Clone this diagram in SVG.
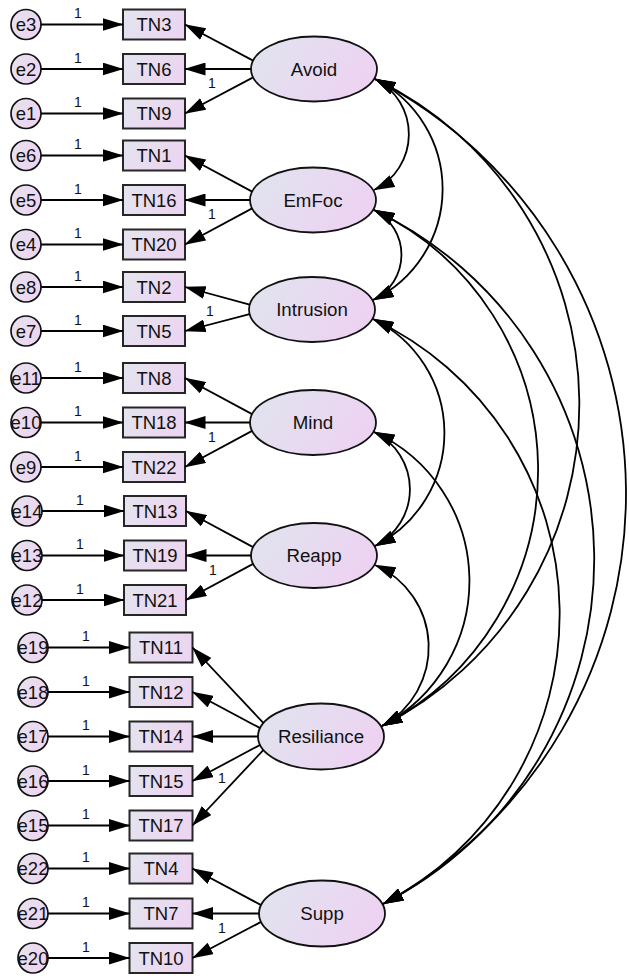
<svg xmlns="http://www.w3.org/2000/svg" width="629" height="976" viewBox="0 0 629 976">
<defs>
  <linearGradient id="gl" x1="0" y1="0" x2="1" y2="0.35">
    <stop offset="0" stop-color="#dfe5ee"/>
    <stop offset="1" stop-color="#edd3f2"/>
  </linearGradient>
  <linearGradient id="gb" x1="0" y1="0" x2="1" y2="0.3">
    <stop offset="0" stop-color="#e3e5ee"/>
    <stop offset="1" stop-color="#ecd5f1"/>
  </linearGradient>
  <linearGradient id="ge" x1="0" y1="0" x2="1" y2="0.4">
    <stop offset="0" stop-color="#e6e2ee"/>
    <stop offset="1" stop-color="#edd5f1"/>
  </linearGradient>
  <marker id="ah" markerUnits="userSpaceOnUse" viewBox="0 0 21 13" markerWidth="21" markerHeight="13" refX="20.5" refY="6.5" orient="auto-start-reverse">
    <path d="M0,0 L21,6.5 L0,13 z" fill="#000"/>
  </marker>
</defs>
<style>
  .lat ellipse{fill:url(#gl);stroke:#111;stroke-width:1.8}
  .obs rect{fill:url(#gb);stroke:#262626;stroke-width:2}
  .err circle{fill:url(#ge);stroke:#111;stroke-width:1.7}
  text{font-family:"Liberation Sans",Arial,sans-serif;fill:#111;text-anchor:middle}
  .lt{font-size:18.7px}
  .ot{font-size:18.5px}
  .et{font-size:18.5px}
  .w{font-size:14px;fill:#111}
  #connectors line,#connectors path{stroke:#000;stroke-width:1.8;fill:none;marker-end:url(#ah)}
  #connectors .cov path{marker-start:url(#ah)}
</style>
<rect width="629" height="976" fill="#fff"/>

<!-- error terms -->
<g id="e3" class="err"><circle cx="26" cy="24.5" r="15"/><text class="et" x="26" y="31">e3</text></g>
<g id="e2" class="err"><circle cx="26" cy="69" r="15"/><text class="et" x="26" y="75.5">e2</text></g>
<g id="e1" class="err"><circle cx="26" cy="113.5" r="15"/><text class="et" x="26" y="120">e1</text></g>
<g id="e6" class="err"><circle cx="26" cy="155.5" r="15"/><text class="et" x="26" y="162">e6</text></g>
<g id="e5" class="err"><circle cx="26" cy="200" r="15"/><text class="et" x="26" y="206.5">e5</text></g>
<g id="e4" class="err"><circle cx="26" cy="244.5" r="15"/><text class="et" x="26" y="251">e4</text></g>
<g id="e8" class="err"><circle cx="26" cy="287" r="15"/><text class="et" x="26" y="293.5">e8</text></g>
<g id="e7" class="err"><circle cx="26" cy="331" r="15"/><text class="et" x="26" y="337.5">e7</text></g>
<g id="e11" class="err"><circle cx="26" cy="378" r="15"/><text class="et" x="26" y="384.5">e11</text></g>
<g id="e10" class="err"><circle cx="26" cy="422.5" r="15"/><text class="et" x="26" y="429">e10</text></g>
<g id="e9" class="err"><circle cx="26" cy="467" r="15"/><text class="et" x="26" y="473.5">e9</text></g>
<g id="e14" class="err"><circle cx="27" cy="511" r="15"/><text class="et" x="27" y="517.5">e14</text></g>
<g id="e13" class="err"><circle cx="27" cy="555.5" r="15"/><text class="et" x="27" y="562">e13</text></g>
<g id="e12" class="err"><circle cx="27" cy="600" r="15"/><text class="et" x="27" y="606.5">e12</text></g>
<g id="e19" class="err"><circle cx="33" cy="647.5" r="15"/><text class="et" x="33" y="654">e19</text></g>
<g id="e18" class="err"><circle cx="33" cy="692" r="15"/><text class="et" x="33" y="698.5">e18</text></g>
<g id="e17" class="err"><circle cx="33" cy="736.5" r="15"/><text class="et" x="33" y="743">e17</text></g>
<g id="e16" class="err"><circle cx="33" cy="781" r="15"/><text class="et" x="33" y="787.5">e16</text></g>
<g id="e15" class="err"><circle cx="33" cy="825.5" r="15"/><text class="et" x="33" y="832">e15</text></g>
<g id="e22" class="err"><circle cx="33" cy="868.5" r="15"/><text class="et" x="33" y="875">e22</text></g>
<g id="e21" class="err"><circle cx="33" cy="913.5" r="15"/><text class="et" x="33" y="920">e21</text></g>
<g id="e20" class="err"><circle cx="33" cy="958" r="15"/><text class="et" x="33" y="964.5">e20</text></g>

<!-- observed items -->
<g id="TN3" class="obs"><rect x="123" y="9.5" width="62" height="30"/><text class="ot" x="154" y="31">TN3</text></g>
<g id="TN6" class="obs"><rect x="123" y="54" width="62" height="30"/><text class="ot" x="154" y="75.5">TN6</text></g>
<g id="TN9" class="obs"><rect x="123" y="98.5" width="62" height="30"/><text class="ot" x="154" y="120">TN9</text></g>
<g id="TN1" class="obs"><rect x="123" y="140.5" width="62" height="30"/><text class="ot" x="154" y="162">TN1</text></g>
<g id="TN16" class="obs"><rect x="123" y="185" width="62" height="30"/><text class="ot" x="154" y="206.5">TN16</text></g>
<g id="TN20" class="obs"><rect x="123" y="229.5" width="62" height="30"/><text class="ot" x="154" y="251">TN20</text></g>
<g id="TN2" class="obs"><rect x="123" y="272" width="62" height="30"/><text class="ot" x="154" y="293.5">TN2</text></g>
<g id="TN5" class="obs"><rect x="123" y="316" width="62" height="30"/><text class="ot" x="154" y="337.5">TN5</text></g>
<g id="TN8" class="obs"><rect x="123" y="363" width="62" height="30"/><text class="ot" x="154" y="384.5">TN8</text></g>
<g id="TN18" class="obs"><rect x="123" y="407.5" width="62" height="30"/><text class="ot" x="154" y="429">TN18</text></g>
<g id="TN22" class="obs"><rect x="123" y="452" width="62" height="30"/><text class="ot" x="154" y="473.5">TN22</text></g>
<g id="TN13" class="obs"><rect x="124" y="496" width="62" height="30"/><text class="ot" x="155" y="517.5">TN13</text></g>
<g id="TN19" class="obs"><rect x="124" y="540.5" width="62" height="30"/><text class="ot" x="155" y="562">TN19</text></g>
<g id="TN21" class="obs"><rect x="124" y="585" width="62" height="30"/><text class="ot" x="155" y="606.5">TN21</text></g>
<g id="TN11" class="obs"><rect x="129.5" y="632.5" width="63" height="30"/><text class="ot" x="161" y="654">TN11</text></g>
<g id="TN12" class="obs"><rect x="129.5" y="677" width="63" height="30"/><text class="ot" x="161" y="698.5">TN12</text></g>
<g id="TN14" class="obs"><rect x="129.5" y="721.5" width="63" height="30"/><text class="ot" x="161" y="743">TN14</text></g>
<g id="TN15" class="obs"><rect x="129.5" y="766" width="63" height="30"/><text class="ot" x="161" y="787.5">TN15</text></g>
<g id="TN17" class="obs"><rect x="129.5" y="810.5" width="63" height="30"/><text class="ot" x="161" y="832">TN17</text></g>
<g id="TN4" class="obs"><rect x="129.5" y="853.5" width="63" height="30"/><text class="ot" x="161" y="875">TN4</text></g>
<g id="TN7" class="obs"><rect x="129.5" y="898.5" width="63" height="30"/><text class="ot" x="161" y="920">TN7</text></g>
<g id="TN10" class="obs"><rect x="129.5" y="943" width="63" height="30"/><text class="ot" x="161" y="964.5">TN10</text></g>

<!-- latent factors -->
<g id="Avoid" class="lat"><ellipse cx="314" cy="69" rx="63" ry="32.5"/><text class="lt" x="314" y="75.5">Avoid</text></g>
<g id="EmFoc" class="lat"><ellipse cx="313" cy="200" rx="63" ry="32.5"/><text class="lt" x="313" y="206.5">EmFoc</text></g>
<g id="Intrusion" class="lat"><ellipse cx="312" cy="309.5" rx="63" ry="32.5"/><text class="lt" x="312" y="316">Intrusion</text></g>
<g id="Mind" class="lat"><ellipse cx="313" cy="422.5" rx="63" ry="32.5"/><text class="lt" x="313" y="429">Mind</text></g>
<g id="Reapp" class="lat"><ellipse cx="314" cy="555.5" rx="63" ry="32.5"/><text class="lt" x="314" y="562">Reapp</text></g>
<g id="Resiliance" class="lat"><ellipse cx="321" cy="736.5" rx="63" ry="33"/><text class="lt" x="321" y="743">Resiliance</text></g>
<g id="Supp" class="lat"><ellipse cx="322" cy="913.5" rx="63" ry="33"/><text class="lt" x="322" y="920">Supp</text></g>

<g id="connectors">
  <!-- error paths -->
  <g class="errpaths">
    <line x1="41" y1="24.5" x2="123" y2="24.5"/>
    <line x1="41" y1="69" x2="123" y2="69"/>
    <line x1="41" y1="113.5" x2="123" y2="113.5"/>
    <line x1="41" y1="155.5" x2="123" y2="155.5"/>
    <line x1="41" y1="200" x2="123" y2="200"/>
    <line x1="41" y1="244.5" x2="123" y2="244.5"/>
    <line x1="41" y1="287" x2="123" y2="287"/>
    <line x1="41" y1="331" x2="123" y2="331"/>
    <line x1="41" y1="378" x2="123" y2="378"/>
    <line x1="41" y1="422.5" x2="123" y2="422.5"/>
    <line x1="41" y1="467" x2="123" y2="467"/>
    <line x1="42" y1="511" x2="124" y2="511"/>
    <line x1="42" y1="555.5" x2="124" y2="555.5"/>
    <line x1="42" y1="600" x2="124" y2="600"/>
    <line x1="48" y1="647.5" x2="129.5" y2="647.5"/>
    <line x1="48" y1="692" x2="129.5" y2="692"/>
    <line x1="48" y1="736.5" x2="129.5" y2="736.5"/>
    <line x1="48" y1="781" x2="129.5" y2="781"/>
    <line x1="48" y1="825.5" x2="129.5" y2="825.5"/>
    <line x1="48" y1="868.5" x2="129.5" y2="868.5"/>
    <line x1="48" y1="913.5" x2="129.5" y2="913.5"/>
    <line x1="48" y1="958" x2="129.5" y2="958"/>
  </g>
  <!-- factor loadings -->
  <g class="loadings">
    <line x1="253.1" y1="60.6" x2="185" y2="24.5"/>
    <line x1="251" y1="69" x2="185" y2="69"/>
    <line x1="253.1" y1="77.4" x2="185" y2="113.5"/>
    <line x1="252.1" y1="191.6" x2="185" y2="155.5"/>
    <line x1="250" y1="200" x2="185" y2="200"/>
    <line x1="252.1" y1="208.4" x2="185" y2="244.5"/>
    <line x1="249.6" y1="304.7" x2="185" y2="287"/>
    <line x1="249.6" y1="314.1" x2="185" y2="331"/>
    <line x1="252.1" y1="414.1" x2="185" y2="378"/>
    <line x1="250" y1="422.5" x2="185" y2="422.5"/>
    <line x1="252.1" y1="430.9" x2="185" y2="467"/>
    <line x1="253.1" y1="547.1" x2="186" y2="511"/>
    <line x1="251" y1="555.5" x2="186" y2="555.5"/>
    <line x1="253.1" y1="563.9" x2="186" y2="600"/>
    <line x1="263.5" y1="723.1" x2="192.5" y2="647.5"/>
    <line x1="260.1" y1="728.1" x2="192.5" y2="692"/>
    <line x1="258" y1="736.5" x2="192.5" y2="736.5"/>
    <line x1="260.1" y1="744.9" x2="192.5" y2="781"/>
    <line x1="263.5" y1="749.9" x2="192.5" y2="825.5"/>
    <line x1="261.1" y1="905.1" x2="192.5" y2="868.5"/>
    <line x1="259" y1="913.5" x2="192.5" y2="913.5"/>
    <line x1="261.1" y1="921.9" x2="192.5" y2="958"/>
  </g>
  <!-- covariances -->
  <g class="cov">
    <path d="M375,79 A62,62 0 0 1 374,190"/>
    <path d="M375,79 A123.3,123.3 0 0 1 373,300"/>
    <path d="M375,79 A361,361 0 0 1 382,726"/>
    <path d="M375,79 A468,468 0 0 1 383,904"/>
    <path d="M374,210 A50.2,50.2 0 0 1 373,300"/>
    <path d="M374,210 A288,288 0 0 1 382,726"/>
    <path d="M374,210 A387,387 0 0 1 383,904"/>
    <path d="M373,319 A126.7,126.7 0 0 1 375,546"/>
    <path d="M373,319 A326.4,326.4 0 0 1 383,904"/>
    <path d="M374,432 A63.6,63.6 0 0 1 375,546"/>
    <path d="M374,432 A164,164 0 0 1 382,726"/>
    <path d="M375,565 A89.8,89.8 0 0 1 382,726"/>
  </g>
  <!-- fixed parameter labels -->
  <g class="weights">
    <text class="w" x="78" y="18">1</text>
    <text class="w" x="78" y="62.5">1</text>
    <text class="w" x="78" y="107">1</text>
    <text class="w" x="78" y="149">1</text>
    <text class="w" x="78" y="193.5">1</text>
    <text class="w" x="78" y="238">1</text>
    <text class="w" x="78" y="280.5">1</text>
    <text class="w" x="78" y="324.5">1</text>
    <text class="w" x="78" y="371.5">1</text>
    <text class="w" x="78" y="416">1</text>
    <text class="w" x="78" y="460.5">1</text>
    <text class="w" x="80" y="504.5">1</text>
    <text class="w" x="80" y="549">1</text>
    <text class="w" x="80" y="593.5">1</text>
    <text class="w" x="86" y="641">1</text>
    <text class="w" x="86" y="685.5">1</text>
    <text class="w" x="86" y="730">1</text>
    <text class="w" x="86" y="774.5">1</text>
    <text class="w" x="86" y="819">1</text>
    <text class="w" x="86" y="862">1</text>
    <text class="w" x="86" y="907">1</text>
    <text class="w" x="86" y="951.5">1</text>
    <text class="w" x="212" y="88">1</text>
    <text class="w" x="212" y="219">1</text>
    <text class="w" x="210" y="316">1</text>
    <text class="w" x="212" y="442">1</text>
    <text class="w" x="213" y="575">1</text>
    <text class="w" x="222" y="783">1</text>
    <text class="w" x="222" y="933">1</text>
  </g>
</g>
</svg>
